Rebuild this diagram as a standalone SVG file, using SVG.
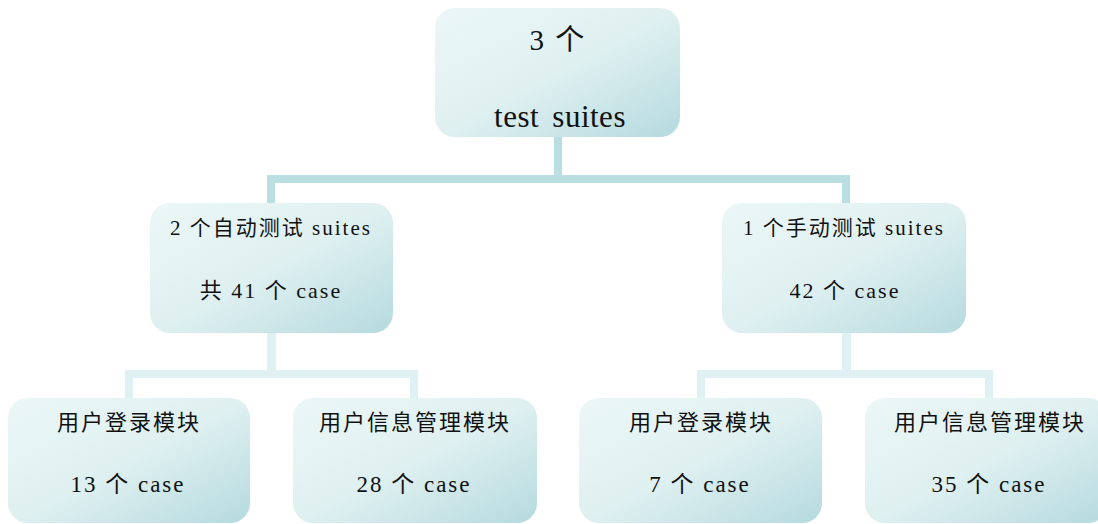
<svg xmlns="http://www.w3.org/2000/svg" width="1098" height="524" viewBox="0 0 1098 524">
<defs>
<linearGradient id="g" x1="0" y1="0" x2="1" y2="1">
<stop offset="0" stop-color="#ecf7f7"/>
<stop offset="0.5" stop-color="#dff0f1"/>
<stop offset="1" stop-color="#b5dade"/>
</linearGradient>
<style>
.box{fill:url(#g);}
.t{font-family:"Liberation Serif","Noto Sans CJK SC",serif;fill:#111;text-anchor:middle;}
.s{letter-spacing:2px;}
.c1{fill:#b9dfe2;}
.c2{fill:#dff1f2;}
</style>
</defs>
<rect width="1098" height="524" fill="#fff"/>
<g id="connectors">
<rect class="c1" x="554" y="137" width="8" height="42"/>
<rect class="c1" x="267" y="175" width="583" height="8"/>
<rect class="c1" x="267" y="175" width="8" height="30"/>
<rect class="c1" x="842" y="175" width="8" height="30"/>
<rect class="c2" x="267" y="332" width="9" height="44"/>
<rect class="c2" x="125" y="370" width="293" height="8"/>
<rect class="c2" x="125" y="370" width="8" height="30"/>
<rect class="c2" x="410" y="370" width="8" height="30"/>
<rect class="c2" x="842" y="332" width="9" height="44"/>
<rect class="c2" x="697" y="370" width="296" height="8"/>
<rect class="c2" x="697" y="370" width="8" height="30"/>
<rect class="c2" x="985" y="370" width="8" height="30"/>
</g>
<g id="root">
<rect class="box" x="435" y="8" width="245" height="129" rx="20"/>
<text class="t" x="558" y="50" font-size="29" letter-spacing="2">3 个</text>
<text class="t" x="560" y="127" font-size="31" word-spacing="5" letter-spacing="0.5">test suites</text>
</g>
<g id="auto">
<rect class="box" x="150" y="203" width="243" height="130" rx="20"/>
<text class="t s" x="271" y="235" font-size="21">2 个自动测试 suites</text>
<text class="t s" x="271" y="298" font-size="22">共 41 个 case</text>
</g>
<g id="manual">
<rect class="box" x="722" y="203" width="244" height="130" rx="20"/>
<text class="t s" x="844" y="235" font-size="21">1 个手动测试 suites</text>
<text class="t s" x="845" y="298" font-size="22">42 个 case</text>
</g>
<g id="auto-login">
<rect class="box" x="8" y="398" width="242" height="125" rx="20"/>
<text class="t s" x="129" y="430" font-size="22">用户登录模块</text>
<text class="t s" x="128" y="492" font-size="23">13 个 case</text>
</g>
<g id="auto-info">
<rect class="box" x="293" y="398" width="244" height="125" rx="20"/>
<text class="t s" x="415" y="430" font-size="22">用户信息管理模块</text>
<text class="t s" x="414" y="492" font-size="23">28 个 case</text>
</g>
<g id="manual-login">
<rect class="box" x="579" y="398" width="243" height="125" rx="20"/>
<text class="t s" x="701" y="430" font-size="22">用户登录模块</text>
<text class="t s" x="700" y="492" font-size="23">7 个 case</text>
</g>
<g id="manual-info">
<rect class="box" x="865" y="398" width="243" height="125" rx="20"/>
<text class="t s" x="990" y="430" font-size="22">用户信息管理模块</text>
<text class="t s" x="989" y="492" font-size="23">35 个 case</text>
</g>
</svg>
